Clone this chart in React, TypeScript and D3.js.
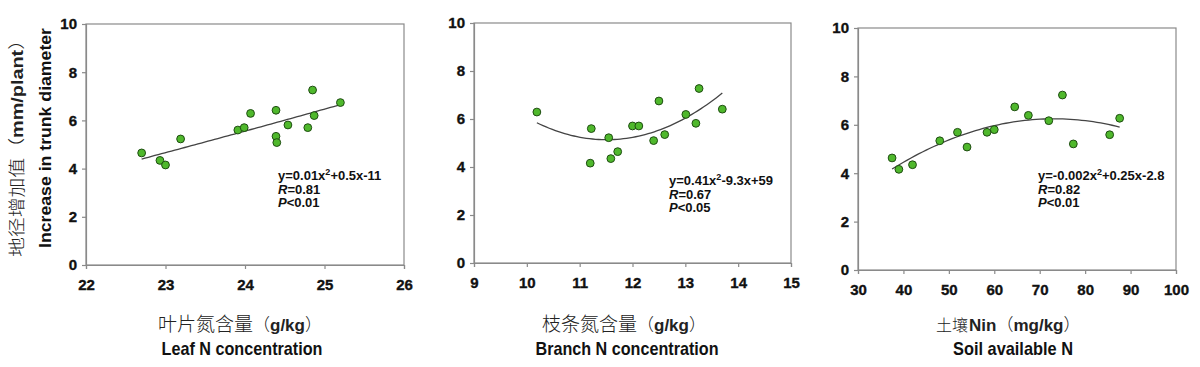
import React, { useEffect, useRef } from 'react'
import * as d3 from 'd3'

// trunk diameter increase (mm/plant) vs. N content
const leafN = [22.70, 22.93, 23.00, 23.19, 23.91, 23.99, 24.07, 24.39, 24.39, 24.40, 24.54, 24.79, 24.85, 24.87, 25.20]
const leafY = [4.65, 4.34, 4.15, 5.23, 5.60, 5.70, 6.29, 6.42, 5.34, 5.08, 5.81, 5.70, 7.26, 6.20, 6.74]

const branchN = [10.19, 11.22, 11.20, 11.55, 11.59, 11.72, 12.00, 12.12, 12.40, 12.50, 12.61, 13.01, 13.20, 13.26, 13.70]
const branchY = [6.29, 5.60, 4.16, 5.22, 4.35, 4.64, 5.71, 5.71, 5.10, 6.75, 5.35, 6.19, 5.82, 7.27, 6.41]

const soilN = [37.5, 39.0, 42.0, 48.0, 51.9, 54.0, 58.4, 60.0, 64.5, 67.5, 72.0, 75.0, 77.4, 85.4, 87.6]
const soilY = [4.63, 4.16, 4.35, 5.34, 5.69, 5.08, 5.69, 5.80, 6.74, 6.39, 6.17, 7.23, 5.21, 5.59, 6.27]

const yTicks = [0, 2, 4, 6, 8, 10]
const leafTicks = [22, 23, 24, 25, 26]
const branchTicks = [9, 10, 11, 12, 13, 14, 15]
const soilTicks = [30, 40, 50, 60, 70, 80, 90, 100]

const equations = [
  ['y=0.01x', '+0.5x-11', '0.81', '0.01'],
  ['y=0.41x', '-9.3x+59', '0.67', '0.05'],
  ['y=-0.002x', '+0.25x-2.8', '0.82', '0.01'],
]
const titlesCn = ['叶片氮含量', '枝条氮含量', '土壤']
const titlesUnit = [['', 'g/kg'], ['', 'g/kg'], ['Nin', 'mg/kg']]
const titlesEn = ['Leaf N concentration', 'Branch N concentration', 'Soil available N']

const AXIS = '#8a8a8a'
const ARIAL = 'Liberation Sans, Arial, sans-serif'
const CJK = 'Noto Sans CJK SC, sans-serif'

// least squares quadratic fit, x centred for stability
function quadFit(xs: number[], ys: number[]) {
  const m = d3.mean(xs) as number
  const u = xs.map(x => x - m)
  const s = (k: number) => d3.sum(u, v => Math.pow(v, k))
  const t = (k: number) => d3.sum(u, (v, i) => Math.pow(v, k) * ys[i])
  const A = [[s(0), s(1), s(2)], [s(1), s(2), s(3)], [s(2), s(3), s(4)]]
  const b = [t(0), t(1), t(2)]
  for (let i = 0; i < 3; i++) {
    for (let j = i + 1; j < 3; j++) {
      const f = A[j][i] / A[i][i]
      for (let k = i; k < 3; k++) A[j][k] -= f * A[i][k]
      b[j] -= f * b[i]
    }
  }
  const c = [0, 0, 0]
  for (let i = 2; i >= 0; i--) {
    let r = b[i]
    for (let k = i + 1; k < 3; k++) r -= A[i][k] * c[k]
    c[i] = r / A[i][i]
  }
  return (x: number) => c[0] + c[1] * (x - m) + c[2] * (x - m) * (x - m)
}

// cn: [left, cjk font size] of the chinese title; en: [centre, baseline, width]
const panels = [
  { xs: leafN, ys: leafY, ticks: leafTicks, box: [86, 24, 404, 265], eq: [278, 180], cn: [158, 19], en: [242, 355, 161] },
  { xs: branchN, ys: branchY, ticks: branchTicks, box: [474, 23, 791, 263], eq: [669, 185], cn: [542, 19], en: [627, 355, 183] },
  { xs: soilN, ys: soilY, ticks: soilTicks, box: [858, 28, 1176, 270], eq: [1038, 180], cn: [936, 16], en: [1013, 355, 120] },
]

function styleAxis(a: any) {
  a.attr('font-size', 15).attr('font-family', ARIAL).attr('font-weight', 'bold')
  a.select('.domain').attr('stroke', AXIS).attr('stroke-width', 1.2)
  a.selectAll('.tick line').attr('stroke', AXIS).attr('stroke-width', 1.2)
  a.selectAll('.tick text').attr('fill', '#111')
    .style('font-size', '15px').style('font-weight', '700').style('font-family', ARIAL)
    .attr('stroke', '#111').attr('stroke-width', 0.35)
}

export default function App() {
  const ref = useRef<SVGSVGElement>(null)

  useEffect(() => {
    const svg = d3.select(ref.current)
    svg.selectAll('*').remove()

    panels.forEach((p, idx) => {
      const [x0, y0, x1, y1] = p.box
      const g = svg.append('g')
      const xScale = d3.scaleLinear().domain([p.ticks[0], p.ticks[p.ticks.length - 1]]).range([x0, x1])
      const yScale = d3.scaleLinear().domain([0, 10]).range([y1, y0])

      g.append('rect').attr('x', x0).attr('y', y0).attr('width', x1 - x0).attr('height', y1 - y0)
        .attr('fill', 'none').attr('stroke', AXIS).attr('stroke-width', 1.2)

      const xAxis = g.append('g').attr('transform', `translate(0,${y1})`)
      xAxis.call(d3.axisBottom(xScale).tickValues(p.ticks).tickSize(4).tickPadding(10).tickFormat(d3.format('d')))
      styleAxis(xAxis)
      const yAxis = g.append('g').attr('transform', `translate(${x0},0)`)
      yAxis.call(d3.axisLeft(yScale).tickValues(yTicks).tickSize(4).tickPadding(5).tickFormat(d3.format('d')))
      styleAxis(yAxis)

      // fitted curve
      const f = quadFit(p.xs, p.ys)
      const [lo, hi] = d3.extent(p.xs) as [number, number]
      const pts = d3.range(0, 61).map(i => lo + (hi - lo) * i / 60)
      g.append('path').datum(pts)
        .attr('d', d3.line<number>().x(d => xScale(d)).y(d => yScale(f(d))))
        .attr('fill', 'none').attr('stroke', '#444').attr('stroke-width', 1.3)

      g.selectAll('circle').data(p.xs).join('circle')
        .attr('cx', d => xScale(d)).attr('cy', (d, i) => yScale(p.ys[i])).attr('r', 3.9)
        .attr('fill', '#4fb82c').attr('stroke', '#1f4d12').attr('stroke-width', 1)

      // equation block
      const e = equations[idx]
      const [ex, ey] = p.eq
      const eqBlock = g.append('g').attr('font-family', ARIAL).attr('font-size', 13)
        .attr('font-weight', 'bold').attr('fill', '#111')
      const eqT = eqBlock.append('text').attr('x', ex).attr('y', ey)
      eqT.append('tspan').text(e[0])
      eqT.append('tspan').attr('dy', -5).attr('font-size', 9).text('2')
      eqT.append('tspan').attr('dy', 5).text(e[1])
      const rT = eqBlock.append('text').attr('x', ex).attr('y', ey + 13.5)
      rT.append('tspan').attr('font-style', 'italic').text('R')
      rT.append('tspan').text('=' + e[2])
      const pT = eqBlock.append('text').attr('x', ex).attr('y', ey + 27)
      pT.append('tspan').attr('font-style', 'italic').text('P')
      pT.append('tspan').text('<' + e[3])

      // axis titles
      const [cl, cs] = p.cn
      const title = g.append('text').attr('x', cl).attr('y', 331).attr('fill', '#222').attr('font-size', 17)
      title.append('tspan').attr('font-family', CJK).attr('font-weight', 300).attr('font-size', cs).text(titlesCn[idx])
      const [pre, u] = titlesUnit[idx]
      if (pre) title.append('tspan').attr('dx', 1).attr('font-family', ARIAL).attr('font-weight', 'bold').text(pre)
      title.append('tspan').attr('font-family', CJK).attr('font-weight', 300).text('（')
      title.append('tspan').attr('font-family', ARIAL).attr('font-weight', 'bold').text(u)
      title.append('tspan').attr('font-family', CJK).attr('font-weight', 300).text('）')

      const [nx, ny, nw] = p.en
      g.append('text').attr('x', nx).attr('y', ny).attr('text-anchor', 'middle')
        .attr('textLength', nw).attr('lengthAdjust', 'spacingAndGlyphs')
        .attr('font-family', ARIAL).attr('font-size', 19).attr('font-weight', 'bold')
        .attr('fill', '#111').text(titlesEn[idx])
    })

    // y axis title, two rotated lines
    const yl = svg.append('g')
    const cnY = yl.append('text').attr('transform', 'translate(23,257) rotate(-90)')
      .attr('textLength', 227).attr('lengthAdjust', 'spacingAndGlyphs').attr('fill', '#222')
      .attr('font-size', 17)
    cnY.append('tspan').attr('font-family', CJK).attr('font-weight', 300).text('地径增加值（')
    cnY.append('tspan').attr('font-family', ARIAL).attr('font-weight', 'bold').text('mm/plant')
    cnY.append('tspan').attr('font-family', CJK).attr('font-weight', 300).text('）')
    yl.append('text').attr('transform', 'translate(51,138) rotate(-90)').attr('text-anchor', 'middle')
      .attr('textLength', 220).attr('lengthAdjust', 'spacingAndGlyphs').attr('fill', '#111')
      .attr('font-family', ARIAL).attr('font-size', 17).attr('font-weight', 'bold')
      .text('Increase in trunk diameter')
  }, [])

  return (
    <svg ref={ref} width={1200} height={367}
      style={{ position: 'absolute', left: 0, top: 0, background: '#fff' }} />
  )
}
